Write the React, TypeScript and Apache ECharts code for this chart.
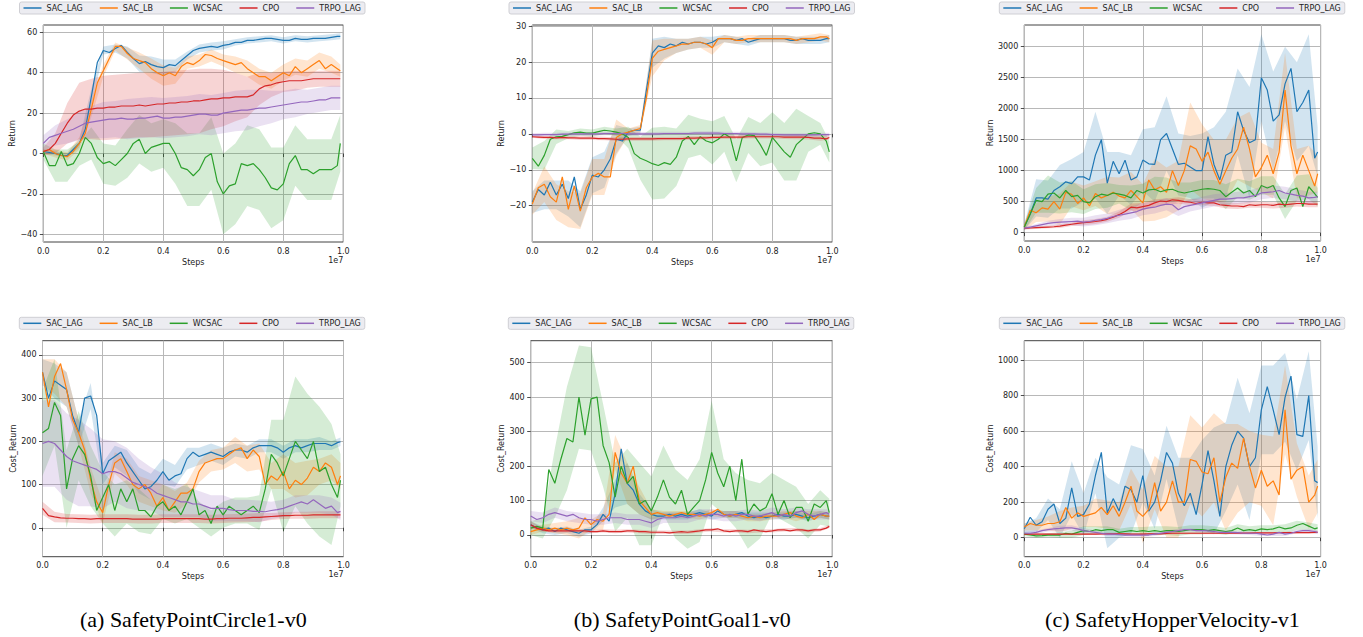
import React, { useEffect, useRef } from "react";
import * as echarts from "echarts";

// x positions (in units of 1e7 steps)
const STEPS = [0, 0.02, 0.04, 0.06, 0.08, 0.1, 0.12, 0.14, 0.16, 0.18, 0.2, 0.22, 0.24, 0.26, 0.28, 0.3, 0.32, 0.34, 0.36, 0.38, 0.4, 0.42, 0.44, 0.46, 0.48, 0.5, 0.52, 0.54, 0.56, 0.58, 0.6, 0.62, 0.64, 0.66, 0.68, 0.7, 0.72, 0.74, 0.76, 0.78, 0.8, 0.82, 0.84, 0.86, 0.88, 0.9, 0.92, 0.94, 0.96, 0.98, 0.99];
const X_TICKS = [0, 0.2, 0.4, 0.6, 0.8, 1.0];
const METHODS = ["SAC_LAG", "SAC_LB", "WCSAC", "CPO", "TRPO_LAG"];
const COLORS = ["#1f77b4", "#ff7f0e", "#2ca02c", "#d62728", "#9467bd"];
const BAND_FILLS = ["rgba(31,119,180,0.2)", "rgba(255,127,14,0.2)", "rgba(44,160,44,0.2)", "rgba(214,39,40,0.2)", "rgba(148,103,189,0.2)"];
const CAPTIONS = ["(a) SafetyPointCircle1-v0", "(b) SafetyPointGoal1-v0", "(c) SafetyHopperVelocity-v1"];

// ---- (a) SafetyPointCircle1 Return ----
const c1_sacLag = [1, 0.5, 0, -1, -1, 2, 5, 12, 28, 45, 51, 50, 52, 53.5, 50, 47, 44.5, 45.5, 44, 43, 42.5, 44, 43.5, 46, 48.5, 51, 52, 52.5, 53, 52.5, 53.5, 54, 55, 55, 56, 56, 56.5, 57, 57, 56.5, 56, 56, 57, 56.5, 56.5, 57, 57, 57, 57.5, 58, 58];
const c1_sacLb = [1, 2, 0, -1, -1.5, 1, 5, 10, 22, 35, 41, 47, 53, 53, 49.5, 47, 46, 45, 42, 40, 38.5, 40, 38.5, 43, 45, 44, 46, 49, 48.5, 47, 46, 45, 44, 45, 42, 40, 38, 38, 36, 38, 40, 38.5, 43, 40, 42, 44, 46, 42, 44, 42, 41];
const c1_wcsac = [1, -6, -6, 1, -6, -5, 0, 8, 5, -2, -5, -4, -6, -3, 0, 5, 7, 0, 3, 4, 5, 5, 0, -7, -8, -11, -8, -2, 0, -14, -20, -16, -15, -5, -6, -5, -8, -12, -17, -18, -15, -5, -1, -8, -8, -10, -8, -8, -8, -6, 5];
const c1_cpo = [1, 2, 5, 10, 15, 19, 21, 22, 22, 22.5, 22.5, 23, 23, 23.5, 23.5, 23.5, 24, 23.5, 24, 24.5, 24.5, 25, 25, 25.5, 25.5, 26, 26, 26.5, 27, 27, 27.5, 27.5, 28, 28, 28, 29, 32, 33.5, 34, 35, 35.5, 36, 36, 36, 36.5, 37, 37, 37, 37, 37, 37];
const c1_trpo = [5, 8, 9, 10, 11, 12, 13.5, 15, 15.5, 16, 16.5, 17, 17, 17.5, 17, 17, 17.5, 17.5, 18, 18.5, 17.5, 17.5, 18, 18, 18.5, 19, 19.5, 19.5, 19, 19, 20, 20.5, 21, 21.5, 21.5, 22, 22.5, 22.5, 23, 23.5, 24, 24.5, 25, 25.5, 25.5, 26, 26.5, 26.5, 27.5, 27.5, 27.5];
const c1_sacLagBand = [1, 1, 1, 2, 4, 2, 2, 3, 4, 4, 4, 3, 2, 2, 2, 2, 1.5, 1.5, 1.5, 1.5, 1.5, 1.5, 1.5, 1.5, 1.5, 1.5];
const c1_sacLbBand = [1, 2, 2, 3, 4, 3, 2, 3, 4, 5, 5, 4, 3, 3, 3, 3, 4, 4, 4, 4, 4, 4, 4, 4, 4, 3];
const c1_wcsacBand = [4, 8, 8, 6, 8, 10, 10, 12, 12, 12, 12, 15, 18, 18, 18, 20, 20, 20, 20, 20, 18, 15, 15, 15, 15, 14];
const c1_cpoBand = [2, 5, 10, 14, 15, 16, 16, 16, 16, 16, 16, 16, 16, 16, 15, 14, 12, 10, 8, 6, 5, 5, 4, 4, 4, 4];
const c1_trpoBand = [4, 5, 6, 7, 8, 9, 9, 10, 10, 10, 10, 10, 10, 10, 10, 10, 10, 10, 9, 8, 7, 7, 6, 6, 6, 6];

// ---- (b) SafetyPointGoal1 Return ----
const c2_sacLag = [-19, -15.5, -17, -13.5, -17, -14, -18, -12, -21, -17, -11.5, -12, -10, -7, -1.5, -2, 0.5, 1, 1, 12, 22.5, 24.5, 24, 25, 24.5, 25.5, 25, 25.5, 25.5, 25, 25.5, 26.5, 26.5, 26.5, 26, 26.5, 25.5, 26, 26.5, 26.5, 26.5, 26.5, 26.5, 26, 26, 26.5, 26, 26, 26, 26.5, 26.5];
const c2_sacLb = [-19.5, -15, -14, -17.5, -19, -12, -21, -14.5, -21.5, -15, -12, -11, -12, -12, -1, 0, 0.5, 1, 1.5, 10, 21, 23, 23.5, 24, 24.5, 25, 25, 25.5, 25.5, 25, 24, 26.5, 26.5, 26.5, 26, 26, 26.5, 26.5, 26.5, 26.5, 26.5, 26.5, 26.5, 26.5, 26, 26.5, 26.5, 26.5, 27, 27, 26.5];
const c2_wcsac = [-6.8, -9, -6, -1.5, -0.8, -0.7, -0.2, 0.3, 0.5, 0.2, 0.2, 0.6, 1, 0.8, 0.5, 0, -1, -5.5, -6.8, -7.5, -8.3, -8.8, -8, -8.5, -6.5, -2, -0.7, -3, -0.8, -2, -2.5, -1.5, 0, -1, -7.5, -1, -0.3, -0.5, -3, -6, -1, -3, -5, -6.5, -3, -1.5, 0, 0.3, 0, -2, -5];
const c2_cpo = [-0.8, -0.9, -1, -1, -1.1, -1, -1.1, -1.1, -1.2, -1.2, -1.2, -1.3, -1.3, -1.4, -1.5, -1.5, -1.4, -1.4, -1.4, -1.4, -1.4, -1.3, -1.3, -1.3, -1.3, -1.3, -1.2, -1.2, -1.1, -1.1, -1, -1, -0.9, -0.9, -0.9, -0.9, -0.8, -0.8, -0.8, -0.8, -0.8, -0.8, -0.9, -0.9, -0.9, -0.9, -1, -1.2, -1.2, -1.4, -1];
const c2_trpo = [-0.3, -0.3, -0.2, -0.2, -0.2, -0.1, -0.1, 0, 0, 0, 0, 0, 0.1, 0.1, 0.1, 0.1, 0, 0, 0, 0, 0, 0, 0.1, 0.1, 0.1, 0.1, 0.1, 0.2, 0.2, 0.2, 0.2, 0.2, 0.1, 0.1, 0.1, 0, 0, 0, -0.1, -0.1, -0.2, -0.2, -0.3, -0.3, -0.3, -0.3, -0.3, -0.3, -0.2, -0.2, -0.2];
const c2_sacLagBand = [3, 4, 4, 5, 5, 5, 5, 4, 1, 1, 4, 3, 2, 1.5, 1.5, 1.5, 1, 1, 1, 1, 1, 1, 1, 1, 1, 1];
const c2_sacLbBand = [3, 5, 5, 5, 5, 5, 5, 5, 1, 1, 5, 3, 2, 1.5, 1.5, 2, 1, 1, 1, 1, 1, 1, 1, 1, 1, 1];
const c2_wcsacBand = [3, 4, 2, 1, 1, 1, 1, 1, 3, 6, 10, 10, 8, 6, 5, 6, 5, 6, 5, 6, 7, 8, 10, 5, 3, 3];
const c2_cpoBand = [0.3, 0.4, 0.4, 0.4, 0.5, 0.5, 0.5, 0.5, 0.5, 0.5, 0.5, 0.5, 0.5, 0.5, 0.5, 0.5, 0.5, 0.5, 0.5, 0.5, 0.5, 0.5, 0.6, 0.6, 0.7, 0.6];
const c2_trpoBand = [0.5, 0.5, 0.5, 0.5, 0.5, 0.5, 0.5, 0.5, 0.5, 0.5, 0.5, 0.5, 0.5, 0.5, 0.5, 0.5, 0.5, 0.5, 0.5, 0.5, 0.5, 0.5, 0.5, 0.5, 0.5, 0.5];

// ---- (c) SafetyHopperVelocity Return ----
const c3_sacLag = [90, 300, 560, 560, 540, 680, 740, 820, 790, 900, 900, 850, 1250, 1500, 800, 1150, 950, 1170, 850, 900, 1170, 1110, 1100, 1500, 1600, 1350, 1100, 1120, 1060, 1000, 1000, 1550, 1100, 850, 1250, 1300, 1950, 1650, 1450, 1500, 2500, 2300, 1800, 1900, 2400, 2650, 1950, 2100, 2300, 1200, 1300];
const c3_sacLb = [90, 360, 320, 400, 380, 500, 380, 650, 620, 470, 560, 430, 630, 560, 600, 650, 590, 560, 680, 580, 480, 850, 690, 740, 650, 1000, 760, 1000, 1400, 1350, 1150, 1300, 1000, 780, 1000, 1200, 1350, 1700, 1350, 900, 1050, 1250, 950, 1300, 2300, 1400, 950, 1250, 1000, 750, 950];
const c3_wcsac = [90, 300, 520, 500, 620, 640, 560, 680, 580, 600, 500, 480, 580, 620, 600, 640, 620, 600, 560, 680, 640, 690, 700, 660, 690, 700, 660, 640, 660, 680, 700, 710, 700, 680, 580, 650, 720, 640, 680, 580, 760, 720, 760, 560, 420, 680, 720, 420, 740, 630, 570];
const c3_cpo = [70, 75, 80, 85, 90, 95, 105, 120, 135, 150, 160, 170, 180, 195, 215, 250, 290, 340, 410, 400, 420, 440, 480, 510, 500, 530, 520, 500, 490, 470, 490, 480, 480, 450, 440, 430, 430, 420, 450, 440, 450, 450, 440, 460, 450, 460, 470, 470, 460, 460, 460];
const c3_trpo = [70, 90, 110, 130, 150, 160, 170, 175, 180, 185, 170, 180, 200, 210, 230, 260, 280, 300, 320, 340, 380, 400, 410, 440, 460, 450, 370, 420, 440, 460, 480, 500, 520, 540, 540, 550, 560, 560, 580, 600, 640, 650, 660, 680, 640, 620, 600, 590, 560, 570, 580];
const c3_sacLagBand = [50, 300, 300, 350, 400, 400, 700, 500, 350, 400, 500, 600, 600, 500, 500, 600, 600, 700, 700, 900, 700, 800, 600, 800, 900, 400];
const c3_sacLbBand = [50, 150, 200, 250, 200, 200, 200, 300, 300, 300, 300, 500, 400, 400, 700, 600, 500, 500, 500, 600, 400, 400, 600, 400, 400, 300];
const c3_wcsacBand = [50, 200, 300, 250, 250, 200, 200, 200, 150, 200, 150, 200, 200, 150, 150, 150, 150, 200, 150, 150, 150, 150, 200, 200, 200, 150];
const c3_cpoBand = [20, 20, 20, 30, 30, 40, 40, 40, 50, 60, 60, 60, 50, 50, 50, 50, 50, 50, 50, 50, 50, 50, 50, 50, 50, 50];
const c3_trpoBand = [20, 30, 40, 50, 60, 70, 80, 80, 90, 100, 100, 100, 100, 100, 100, 100, 100, 100, 100, 100, 100, 100, 100, 100, 100, 80];

// ---- (a) SafetyPointCircle1 Cost ----
const c4_sacLag = [360, 300, 340, 330, 320, 260, 220, 300, 305, 260, 125, 155, 165, 175, 150, 130, 110, 90, 95, 110, 130, 110, 120, 125, 160, 175, 165, 170, 175, 170, 165, 175, 180, 180, 175, 185, 190, 190, 190, 185, 175, 185, 190, 185, 190, 195, 195, 195, 190, 197, 199];
const c4_sacLb = [360, 280, 350, 380, 320, 250, 220, 180, 110, 60, 35, 100, 150, 160, 130, 100, 90, 100, 80, 50, 70, 40, 60, 80, 80, 90, 130, 150, 155, 160, 160, 170, 180, 185, 160, 180, 165, 100, 120, 110, 130, 90, 110, 100, 115, 140, 130, 150, 140, 100, 120];
const c4_wcsac = [220, 230, 290, 260, 90, 160, 190, 170, 120, 40, 70, 100, 40, 90, 60, 90, 40, 40, 25, 50, 60, 40, 50, 30, 60, 90, 30, 40, 10, 50, 30, 50, 40, 30, 40, 50, 35, 90, 170, 150, 120, 160, 200, 180, 160, 200, 130, 140, 100, 70, 110];
const c4_cpo = [45, 28, 25, 23, 22, 22, 21, 21, 20, 21, 21, 21, 21, 21, 21, 20, 20, 20, 20, 20, 21, 21, 21, 21, 21, 21, 21, 20, 20, 21, 21, 22, 22, 22, 23, 24, 24, 25, 26, 27, 28, 28, 29, 29, 29, 30, 30, 30, 30, 30, 30];
const c4_trpo = [195, 200, 195, 180, 165, 155, 150, 145, 140, 135, 125, 130, 130, 125, 115, 105, 100, 95, 90, 80, 75, 70, 65, 60, 60, 55, 55, 50, 45, 45, 45, 42, 40, 40, 40, 38, 38, 37, 40, 42, 45, 50, 55, 60, 55, 65, 55, 45, 50, 35, 38];
const c4_sacLagBand = [30, 40, 40, 30, 30, 25, 25, 30, 30, 30, 30, 25, 25, 20, 20, 20, 15, 15, 15, 15, 15, 15, 15, 15, 10, 10];
const c4_sacLbBand = [30, 40, 40, 30, 30, 25, 25, 30, 30, 30, 30, 25, 25, 25, 25, 25, 30, 30, 30, 30, 40, 40, 40, 30, 30, 30];
const c4_wcsacBand = [100, 100, 90, 80, 70, 60, 60, 50, 50, 40, 40, 40, 40, 30, 30, 30, 30, 30, 40, 80, 130, 150, 150, 150, 140, 60];
const c4_cpoBand = [15, 12, 10, 10, 10, 10, 10, 10, 10, 10, 10, 10, 10, 10, 10, 10, 10, 10, 10, 8, 8, 8, 8, 8, 8, 8];
const c4_trpoBand = [100, 100, 100, 100, 90, 80, 70, 70, 60, 50, 50, 40, 35, 30, 30, 30, 25, 25, 25, 20, 20, 20, 20, 20, 20, 20];

// ---- (b) SafetyPointGoal1 Cost ----
const c5_sacLag = [30, 20, 15, 20, 10, 20, 15, 10, 5, 15, 15, 30, 60, 40, 120, 250, 150, 130, 90, 70, 60, 55, 55, 60, 55, 60, 55, 60, 65, 60, 55, 70, 60, 55, 60, 65, 55, 50, 55, 50, 55, 60, 55, 55, 60, 55, 50, 55, 60, 55, 55];
const c5_sacLb = [10, 15, 20, 15, 20, 15, 20, 15, 20, 50, 30, 45, 40, 60, 240, 180, 150, 200, 100, 80, 60, 65, 60, 55, 60, 65, 60, 60, 55, 60, 65, 75, 60, 55, 60, 55, 50, 55, 50, 55, 55, 55, 60, 65, 55, 50, 60, 45, 60, 55, 55];
const c5_wcsac = [20, 25, 20, 190, 150, 220, 280, 270, 400, 290, 395, 400, 260, 210, 110, 200, 150, 170, 90, 100, 70, 110, 160, 110, 90, 130, 60, 80, 100, 160, 240, 180, 140, 200, 100, 220, 60, 90, 70, 80, 120, 60, 100, 50, 80, 80, 40, 90, 80, 100, 65];
const c5_cpo = [30, 20, 15, 12, 12, 12, 12, 12, 12, 12, 10, 10, 12, 10, 10, 10, 12, 12, 10, 10, 8, 8, 8, 6, 8, 10, 8, 10, 12, 15, 15, 18, 12, 10, 12, 12, 10, 15, 12, 10, 12, 15, 15, 12, 15, 15, 12, 15, 15, 20, 25];
const c5_trpo = [55, 45, 50, 60, 65, 60, 55, 60, 50, 45, 45, 40, 45, 50, 50, 50, 45, 45, 45, 40, 35, 45, 50, 50, 50, 55, 50, 55, 60, 55, 60, 60, 55, 60, 55, 60, 60, 55, 55, 60, 65, 55, 60, 55, 65, 70, 60, 55, 60, 65, 60];
const c5_sacLagBand = [10, 10, 10, 10, 10, 10, 20, 40, 60, 30, 15, 10, 10, 10, 10, 10, 10, 10, 10, 10, 10, 10, 10, 10, 10, 10];
const c5_sacLbBand = [10, 10, 15, 20, 30, 15, 25, 50, 60, 40, 15, 10, 10, 10, 10, 10, 10, 10, 10, 10, 10, 10, 15, 10, 10, 10];
const c5_wcsacBand = [20, 30, 100, 150, 150, 150, 120, 100, 100, 120, 100, 100, 100, 100, 120, 150, 80, 80, 100, 80, 60, 60, 60, 50, 50, 40];
const c5_cpoBand = [10, 5, 5, 5, 5, 5, 5, 5, 5, 5, 5, 5, 5, 5, 5, 5, 5, 5, 5, 5, 5, 5, 5, 5, 5, 5];
const c5_trpoBand = [15, 15, 15, 15, 15, 15, 15, 15, 15, 15, 15, 15, 15, 15, 15, 15, 15, 15, 15, 15, 15, 15, 15, 15, 15, 15];

// ---- (c) SafetyHopperVelocity Cost ----
const c6_sacLag = [50, 115, 70, 90, 160, 190, 80, 110, 280, 120, 130, 190, 350, 480, 140, 220, 150, 290, 270, 200, 350, 150, 200, 320, 480, 420, 250, 180, 250, 130, 300, 490, 320, 120, 400, 520, 600, 560, 400, 450, 720, 850, 720, 580, 790, 910, 580, 570, 800, 320, 310];
const c6_sacLb = [60, 80, 70, 70, 80, 80, 90, 170, 110, 140, 120, 130, 140, 170, 130, 180, 120, 200, 290, 150, 120, 160, 310, 150, 200, 320, 200, 200, 440, 430, 370, 360, 450, 200, 340, 420, 390, 560, 400, 280, 380, 290, 320, 240, 720, 330, 380, 400, 200, 240, 290];
const c6_wcsac = [20, 15, 10, 12, 15, 15, 15, 25, 20, 30, 40, 35, 45, 40, 45, 45, 30, 35, 40, 35, 40, 35, 40, 35, 40, 40, 35, 40, 45, 45, 45, 40, 45, 40, 35, 40, 55, 40, 45, 40, 50, 45, 50, 60, 50, 55, 70, 80, 65, 50, 55];
const c6_cpo = [20, 20, 20, 20, 20, 20, 20, 20, 20, 20, 20, 20, 20, 22, 22, 22, 22, 22, 20, 20, 20, 22, 22, 22, 24, 25, 25, 25, 25, 25, 25, 25, 25, 25, 26, 26, 26, 26, 26, 27, 27, 27, 27, 28, 28, 28, 28, 28, 29, 30, 30];
const c6_trpo = [25, 25, 30, 40, 45, 50, 52, 55, 55, 50, 40, 35, 30, 25, 20, 20, 18, 15, 15, 15, 15, 15, 20, 25, 30, 35, 40, 45, 45, 40, 40, 38, 35, 30, 30, 30, 28, 25, 25, 25, 20, 15, 20, 30, 20, 25, 35, 40, 40, 35, 30];
const c6_sacLagBand = [30, 40, 60, 80, 150, 120, 100, 200, 150, 250, 150, 150, 150, 200, 200, 250, 300, 250, 300, 300, 250, 250, 250, 200, 250, 200];
const c6_sacLbBand = [20, 30, 40, 60, 60, 60, 80, 80, 80, 100, 150, 150, 200, 200, 250, 250, 250, 300, 250, 200, 200, 250, 250, 150, 150, 150];
const c6_wcsacBand = [10, 10, 10, 15, 20, 25, 20, 20, 20, 20, 20, 25, 25, 25, 25, 25, 20, 20, 20, 20, 20, 20, 25, 25, 20, 20];
const c6_cpoBand = [5, 5, 5, 5, 5, 5, 5, 5, 5, 5, 5, 5, 5, 5, 5, 5, 5, 5, 5, 5, 5, 5, 5, 5, 5, 5];
const c6_trpoBand = [10, 10, 10, 15, 15, 15, 10, 10, 10, 10, 10, 10, 10, 10, 10, 10, 10, 10, 10, 10, 10, 10, 10, 10, 10, 10];

const TICKS_1 = [-40, -20, 0, 20, 40, 60];
const TICKS_2 = [-20, -10, 0, 10, 20, 30];
const TICKS_3 = [0, 500, 1000, 1500, 2000, 2500, 3000];
const TICKS_4 = [0, 100, 200, 300, 400];
const TICKS_5 = [0, 100, 200, 300, 400, 500];
const TICKS_6 = [0, 200, 400, 600, 800, 1000];

const PANELS = [
  { means: [c1_sacLag, c1_sacLb, c1_wcsac, c1_cpo, c1_trpo], bands: [c1_sacLagBand, c1_sacLbBand, c1_wcsacBand, c1_cpoBand, c1_trpoBand], yName: "Return", yMin: -43.8, yMax: 63.6, ticks: TICKS_1, left: 43.3, top: 25, width: 300, height: 217, nameGap: 25, legendLeft: 19.5, legendTop: 2 },
  { means: [c2_sacLag, c2_sacLb, c2_wcsac, c2_cpo, c2_trpo], bands: [c2_sacLagBand, c2_sacLbBand, c2_wcsacBand, c2_cpoBand, c2_trpoBand], yName: "Return", yMin: -30.1, yMax: 30.3, ticks: TICKS_2, left: 532.3, top: 25, width: 300, height: 217, nameGap: 25, legendLeft: 509, legendTop: 2 },
  { means: [c3_sacLag, c3_sacLb, c3_wcsac, c3_cpo, c3_trpo], bands: [c3_sacLagBand, c3_sacLbBand, c3_wcsacBand, c3_cpoBand, c3_trpoBand], yName: "Return", yMin: -135, yMax: 3350, ticks: TICKS_3, left: 1024.3, top: 25, width: 296.3, height: 216, nameGap: 30, legendLeft: 999.3, legendTop: 2 },
  { means: [c4_sacLag, c4_sacLb, c4_wcsac, c4_cpo, c4_trpo], bands: [c4_sacLagBand, c4_sacLbBand, c4_wcsacBand, c4_cpoBand, c4_trpoBand], yName: "Cost_Return", yMin: -67, yMax: 433, ticks: TICKS_4, left: 42.5, top: 340.7, width: 301, height: 216, nameGap: 25, legendLeft: 19.3, legendTop: 317.3 },
  { means: [c5_sacLag, c5_sacLb, c5_wcsac, c5_cpo, c5_trpo], bands: [c5_sacLagBand, c5_sacLbBand, c5_wcsacBand, c5_cpoBand, c5_trpoBand], yName: "Cost_Return", yMin: -63, yMax: 564, ticks: TICKS_5, left: 530.7, top: 340.7, width: 301.6, height: 216, nameGap: 24, legendLeft: 508.3, legendTop: 317.3 },
  { means: [c6_sacLag, c6_sacLb, c6_wcsac, c6_cpo, c6_trpo], bands: [c6_sacLagBand, c6_sacLbBand, c6_wcsacBand, c6_cpoBand, c6_trpoBand], yName: "Cost_Return", yMin: -107, yMax: 1109, ticks: TICKS_6, left: 1024.3, top: 340.7, width: 296.3, height: 216, nameGap: 29, legendLeft: 999.3, legendTop: 317.3 },
];

const FONT = "DejaVu Sans";
const TEXT = "#222222";

function fmtY(v: number) {
  return v < 0 ? "\u2212" + Math.abs(v) : String(v);
}

function buildOption() {
  const grid: any[] = [];
  const xAxis: any[] = [];
  const yAxis: any[] = [];
  const legend: any[] = [];
  const series: any[] = [];
  const graphic: any[] = [];

  PANELS.forEach((p, i) => {
    grid.push({
      left: p.left, top: p.top, width: p.width, height: p.height,
      show: true, borderColor: "#111", borderWidth: 0.8, backgroundColor: "#fff",
      outerBoundsMode: "none", containLabel: false,
    });
    xAxis.push({
      type: "value", gridIndex: i, min: 0, max: 1, interval: 0.2,
      name: "Steps", nameLocation: "middle", nameGap: 16,
      nameTextStyle: { fontSize: 8, color: TEXT, fontFamily: FONT },
      axisLine: { show: false },
      axisTick: { show: true, length: 3.5, lineStyle: { color: TEXT, width: 0.8 } },
      axisLabel: { fontSize: 8, color: TEXT, fontFamily: FONT, margin: 5, formatter: (v: number) => v.toFixed(1), customValues: X_TICKS },
      splitLine: { show: true, lineStyle: { color: "#b8b8b8", width: 1 } },
    });
    yAxis.push({
      type: "value", gridIndex: i, min: p.yMin, max: p.yMax,
      name: p.yName, nameLocation: "middle", nameGap: p.nameGap,
      nameTextStyle: { fontSize: 8, color: TEXT, fontFamily: FONT },
      axisLine: { show: false },
      axisTick: { show: true, length: 3.5, customValues: p.ticks, lineStyle: { color: TEXT, width: 0.8 } },
      axisLabel: { fontSize: 8, color: TEXT, fontFamily: FONT, margin: 6, customValues: p.ticks, formatter: fmtY },
      splitLine: { show: true, lineStyle: { color: "#b8b8b8", width: 1 } },
    });
    legend.push({
      data: METHODS.map((n) => ({ name: n, icon: "rect" })),
      left: p.legendLeft, top: p.legendTop, orient: "horizontal",
      itemWidth: 18, itemHeight: 1.5, itemGap: 17,
      textStyle: { fontSize: 8, color: TEXT, fontFamily: FONT },
      backgroundColor: "#ececf1", borderColor: "#cfcfd4", borderWidth: 1, borderRadius: 2,
      padding: [2, 4], selectedMode: false,
    });

    // shaded spread bands (drawn as polygons through the axes' coordinate system)
    p.means.forEach((mean, m) => {
      const band = p.bands[m];
      series.push({
        type: "custom", xAxisIndex: i, yAxisIndex: i, data: [[0, 0]], silent: true, clip: true, z: 1,
        renderItem: (_params: any, api: any) => {
          const up = band.map((w, k) => api.coord([STEPS[2 * k], mean[2 * k] + w]));
          const lo = band.map((w, k) => api.coord([STEPS[2 * k], mean[2 * k] - w])).reverse();
          return { type: "polygon", shape: { points: up.concat(lo) }, style: { fill: BAND_FILLS[m], stroke: "none" } };
        },
      });
    });
    p.means.forEach((mean, m) => {
      series.push({
        type: "line", name: METHODS[m], xAxisIndex: i, yAxisIndex: i,
        data: STEPS.map((x, j) => [x, mean[j]]),
        symbol: "none", showSymbol: false, color: COLORS[m],
        lineStyle: { color: COLORS[m], width: 1.2 }, itemStyle: { color: COLORS[m] }, z: 3,
      });
    });

    graphic.push({
      type: "text", x: p.left + p.width, y: p.top + p.height + 18,
      style: { text: "1e7", fontSize: 8, fontFamily: FONT, fill: TEXT, align: "right", verticalAlign: "middle", textAlign: "right", textVerticalAlign: "middle" },
    });
  });

  [0, 1, 2].forEach((c) => {
    const p = PANELS[c];
    graphic.push({
      type: "text", x: p.left + p.width / 2, y: 619,
      style: { text: CAPTIONS[c], fontSize: 22, fontFamily: "Liberation Serif", fill: "#000", align: "center", verticalAlign: "middle", textAlign: "center", textVerticalAlign: "middle" },
    });
  });

  return { animation: false, backgroundColor: "#fff", grid, xAxis, yAxis, legend, series, graphic };
}

export default function App() {
  const ref = useRef<HTMLDivElement>(null);
  useEffect(() => {
    if (!ref.current) return;
    const chart = echarts.init(ref.current, null, { renderer: "svg" });
    chart.setOption(buildOption() as any);
    return () => chart.dispose();
  }, []);
  return <div ref={ref} style={{ position: "absolute", left: 0, top: 0, width: 1363, height: 637 }} />;
}
